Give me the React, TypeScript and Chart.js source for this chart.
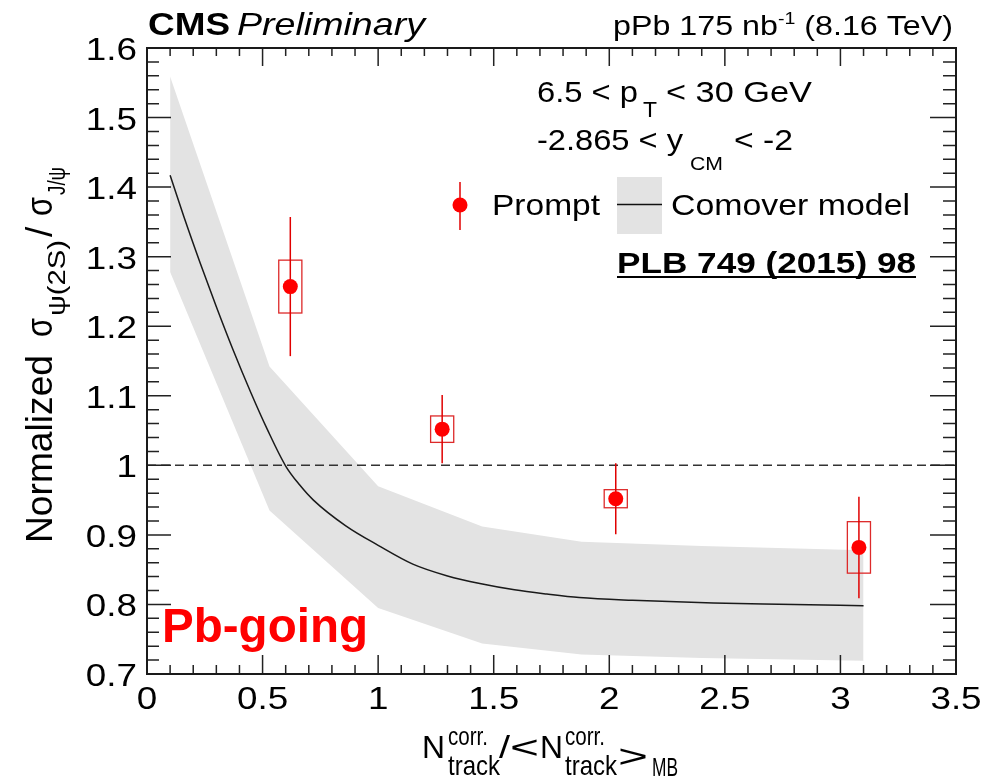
import React, { useEffect, useRef } from 'react';
import Chart from 'chart.js/auto';

// ---------------- data ----------------
const xTickLabels = ['0', '0.5', '1', '1.5', '2', '2.5', '3', '3.5'];
const yTickLabels = ['0.7', '0.8', '0.9', '1', '1.1', '1.2', '1.3', '1.4', '1.5', '1.6'];

const pointX = [0.62, 1.277, 2.028, 3.08];
const pointY = [1.257, 1.052, 0.952, 0.882];
const statErr = [0.1, 0.049, 0.051, 0.073];
const systErr = [0.038, 0.019, 0.013, 0.037];

const modelX = [0.1, 0.16, 0.23, 0.3, 0.37, 0.45, 0.52, 0.6, 0.66, 0.72, 0.86, 1.0, 1.15, 1.3, 1.44, 1.59, 1.73, 1.87, 2.1, 2.45, 2.8, 3.1];
const modelY = [1.417, 1.357, 1.291, 1.228, 1.168, 1.104, 1.052, 0.999, 0.972, 0.95, 0.913, 0.885, 0.858, 0.841, 0.83, 0.821, 0.815, 0.81, 0.806, 0.802, 0.8, 0.798];

const bandX = [0.1, 0.53, 1.0, 1.45, 1.88, 2.4, 3.1];
const bandHigh = [1.559, 1.142, 0.97, 0.912, 0.89, 0.884, 0.878];
const bandLow = [1.278, 0.935, 0.795, 0.744, 0.728, 0.723, 0.719];

const refX = [0, 3.5];
const refY = [1, 1];

const X_MIN = 0, X_MAX = 3.5, X_MINOR = 0.1, X_MAJOR = 0.5;
const Y_MIN = 0.7, Y_MAX = 1.6, Y_MINOR = 0.02, Y_MAJOR = 0.1;
const BOX_HALF_W = 0.05;

// ---------------- helpers ----------------
const FAM = '"Liberation Sans", Arial, Helvetica, sans-serif';

function place(ctx: any, text: string, x: number, y: number, font: string, width?: number, align: string = 'left', color: string = '#000') {
  ctx.save();
  ctx.font = font;
  ctx.fillStyle = color;
  ctx.textBaseline = 'alphabetic';
  ctx.textAlign = 'left';
  const w = ctx.measureText(text).width;
  const s = width ? width / w : 1;
  let ox = 0;
  if (align === 'right') ox = -w * s;
  else if (align === 'center') ox = -w * s / 2;
  ctx.translate(x + ox, y);
  ctx.scale(s, 1);
  ctx.fillText(text, 0, 0);
  ctx.restore();
  return w * s;
}

const zip = (xs: number[], ys: number[]) => xs.map((x, i) => ({ x, y: ys[i] }));

const decor = {
  id: 'decor',
  beforeDatasetDraw(chart: any, args: any) {
    if (chart.data.datasets[args.index].label !== 'Prompt') return;
    const ctx = chart.ctx;
    const xs = chart.scales.x, ys = chart.scales.y;
    ctx.save();
    pointX.forEach((px, i) => {
      const cx = xs.getPixelForValue(px);
      const l = xs.getPixelForValue(px - BOX_HALF_W);
      const r = xs.getPixelForValue(px + BOX_HALF_W);
      const t = ys.getPixelForValue(pointY[i] + systErr[i]);
      const b = ys.getPixelForValue(pointY[i] - systErr[i]);
      ctx.strokeStyle = '#dd2a2a';
      ctx.lineWidth = 1.3;
      ctx.strokeRect(l, t, r - l, b - t);
      ctx.strokeStyle = '#e00000';
      ctx.lineWidth = 1.5;
      ctx.beginPath();
      ctx.moveTo(cx, ys.getPixelForValue(pointY[i] + statErr[i]));
      ctx.lineTo(cx, ys.getPixelForValue(pointY[i] - statErr[i]));
      ctx.stroke();
    });
    ctx.restore();
  },
  afterDraw(chart: any) {
    const ctx = chart.ctx;
    const xs = chart.scales.x, ys = chart.scales.y;
    const { left, right, top, bottom } = chart.chartArea;
    ctx.save();
    // ticks
    ctx.strokeStyle = '#222';
    ctx.lineWidth = 1.5;
    ctx.beginPath();
    const nx = Math.round((X_MAX - X_MIN) / X_MINOR);
    for (let i = 0; i <= nx; i++) {
      const v = X_MIN + i * X_MINOR;
      const major = Math.abs(v / X_MAJOR - Math.round(v / X_MAJOR)) < 1e-6;
      const px = xs.getPixelForValue(v);
      ctx.moveTo(px, bottom); ctx.lineTo(px, bottom - (major ? 19 : 9));
      ctx.moveTo(px, top); ctx.lineTo(px, top + (major ? 18 : 8));
    }
    const ny = Math.round((Y_MAX - Y_MIN) / Y_MINOR);
    for (let i = 0; i <= ny; i++) {
      const v = Y_MIN + i * Y_MINOR;
      const major = Math.abs(v / Y_MAJOR - Math.round(v / Y_MAJOR)) < 1e-6;
      const py = ys.getPixelForValue(v);
      ctx.moveTo(left, py); ctx.lineTo(left + (major ? 24 : 12), py);
      ctx.moveTo(right, py); ctx.lineTo(right - (major ? 26 : 13), py);
    }
    ctx.stroke();
    // frame
    ctx.lineWidth = 2;
    ctx.strokeStyle = '#1a1a1a';
    ctx.strokeRect(left, top, right - left, bottom - top);

    // tick labels
    const TF = `32px ${FAM}`;
    yTickLabels.forEach((lab) => {
      const py = ys.getPixelForValue(parseFloat(lab));
      ctx.font = TF;
      const w = ctx.measureText(lab).width;
      place(ctx, lab, left - 10, py + 12, TF, w * 1.15, 'right');
    });
    xTickLabels.forEach((lab) => {
      const px = xs.getPixelForValue(parseFloat(lab));
      ctx.font = TF;
      const w = ctx.measureText(lab).width;
      place(ctx, lab, px, bottom + 35, TF, w * 1.15, 'center');
    });

    // header
    place(ctx, 'CMS', 148, 35, `bold 32px ${FAM}`, 82);
    place(ctx, 'Preliminary', 237, 35, `italic 32px ${FAM}`, 188);
    {
      const segs = [
        { t: 'pPb 175 nb', f: `28px ${FAM}`, dy: 0 },
        { t: '-1', f: `17px ${FAM}`, dy: -11 },
        { t: ' (8.16 TeV)', f: `28px ${FAM}`, dy: 0 },
      ];
      let tot = 0;
      segs.forEach((s) => { ctx.font = s.f; tot += ctx.measureText(s.t).width; });
      const sc = 340 / tot;
      let x = 953 - 340;
      segs.forEach((s) => { ctx.font = s.f; const w = ctx.measureText(s.t).width * sc; place(ctx, s.t, x, 35 + s.dy, s.f, w); x += w; });
    }

    // kinematic labels
    place(ctx, '6.5 < p', 537, 102, `30px ${FAM}`, 101);
    place(ctx, 'T', 643, 117, `22px ${FAM}`, 14);
    place(ctx, '< 30 GeV', 666, 102, `30px ${FAM}`, 146);
    place(ctx, '-2.865 < y', 537, 150, `30px ${FAM}`, 146);
    place(ctx, 'CM', 690, 170, `19px ${FAM}`, 33);
    place(ctx, '< -2', 734, 150, `30px ${FAM}`, 59);

    // legend
    ctx.strokeStyle = '#e00000';
    ctx.lineWidth = 1.5;
    ctx.beginPath(); ctx.moveTo(460, 182); ctx.lineTo(460, 230); ctx.stroke();
    ctx.fillStyle = '#ff0000';
    ctx.beginPath(); ctx.arc(460, 205, 7.5, 0, Math.PI * 2); ctx.fill();
    place(ctx, 'Prompt', 492, 215, `30px ${FAM}`, 108);
    ctx.fillStyle = '#e3e3e3';
    ctx.fillRect(617, 177, 45, 57);
    ctx.strokeStyle = '#111';
    ctx.lineWidth = 1.5;
    ctx.beginPath(); ctx.moveTo(617, 204.5); ctx.lineTo(662, 204.5); ctx.stroke();
    place(ctx, 'Comover model', 671, 215, `30px ${FAM}`, 239);

    place(ctx, 'PLB 749 (2015) 98', 617, 273, `bold 29px ${FAM}`, 299);
    ctx.fillStyle = '#000';
    ctx.fillRect(617, 276, 299, 2);

    place(ctx, 'Pb-going', 162, 642, `bold 48px ${FAM}`, 206, 'left', '#ff0000');

    // x title
    place(ctx, 'N', 422, 758, `32px ${FAM}`, 23);
    place(ctx, 'corr.', 448, 745, `26px ${FAM}`, 40);
    place(ctx, 'track', 448, 775, `28px ${FAM}`, 52);
    place(ctx, '/', 499, 758, `32px ${FAM}`, 11);
    place(ctx, '<', 510, 758, `32px ${FAM}`, 29);
    place(ctx, 'N', 540, 758, `32px ${FAM}`, 23);
    place(ctx, 'corr.', 565, 745, `26px ${FAM}`, 40);
    place(ctx, 'track', 565, 775, `28px ${FAM}`, 52);
    place(ctx, '>', 618, 767, `32px ${FAM}`, 30);
    place(ctx, 'MB', 652, 776, `26px ${FAM}`, 26);

    // y title (rotated)
    ctx.save();
    ctx.translate(52, 543);
    ctx.rotate(-Math.PI / 2);
    place(ctx, 'Normalized', 0, 0, `37px ${FAM}`, 188);
    place(ctx, 'σ', 206, 0, `37px ${FAM}`, 19);
    place(ctx, 'ψ(2S)', 227, 13, `23px ${FAM}`, 76);
    place(ctx, '/', 306, 0, `37px ${FAM}`);
    place(ctx, 'σ', 327, 0, `37px ${FAM}`, 19);
    place(ctx, 'J/ψ', 348, 13, `23px ${FAM}`, 28);
    ctx.restore();

    ctx.restore();
  },
};

export default function App() {
  const ref = useRef<HTMLCanvasElement | null>(null);
  useEffect(() => {
    document.body.style.margin = '0';
    const canvas = ref.current;
    if (!canvas) return;
    const chart = new Chart(canvas, {
      type: 'line',
      data: {
        datasets: [
          {
            label: 'bandHigh',
            data: zip(bandX, bandHigh),
            borderWidth: 0,
            borderColor: 'rgba(0,0,0,0)',
            backgroundColor: '#e3e3e3',
            pointRadius: 0,
            fill: '+1',
            tension: 0,
            order: 4,
          },
          {
            label: 'bandLow',
            data: zip(bandX, bandLow),
            borderWidth: 0,
            borderColor: 'rgba(0,0,0,0)',
            pointRadius: 0,
            fill: false,
            tension: 0,
            order: 5,
          },
          {
            label: 'Comover model',
            data: zip(modelX, modelY),
            borderColor: '#1a1a1a',
            borderWidth: 1.5,
            pointRadius: 0,
            fill: false,
            cubicInterpolationMode: 'monotone',
            order: 2,
          },
          {
            label: 'ref',
            data: zip(refX, refY),
            borderColor: '#333',
            borderWidth: 1.5,
            borderDash: [9, 5],
            pointRadius: 0,
            fill: false,
            order: 3,
          },
          {
            label: 'Prompt',
            data: zip(pointX, pointY),
            showLine: false,
            pointRadius: 7.5,
            pointBackgroundColor: '#ff0000',
            pointBorderWidth: 0,
            pointBorderColor: '#ff0000',
            order: 1,
          },
        ],
      },
      options: {
        responsive: false,
        animation: false,
        layout: { padding: { left: 147, right: 48, top: 48, bottom: 109 } },
        scales: {
          x: { type: 'linear', min: X_MIN, max: X_MAX, display: false },
          y: { type: 'linear', min: Y_MIN, max: Y_MAX, display: false },
        },
        plugins: { legend: { display: false }, tooltip: { enabled: false } },
        events: [],
      },
      plugins: [decor],
    } as any);
    return () => chart.destroy();
  }, []);
  return (
    <div style={{ width: 1004, height: 783, background: '#fff' }}>
      <canvas ref={ref} width={1004} height={783} style={{ display: 'block' }} />
    </div>
  );
}
